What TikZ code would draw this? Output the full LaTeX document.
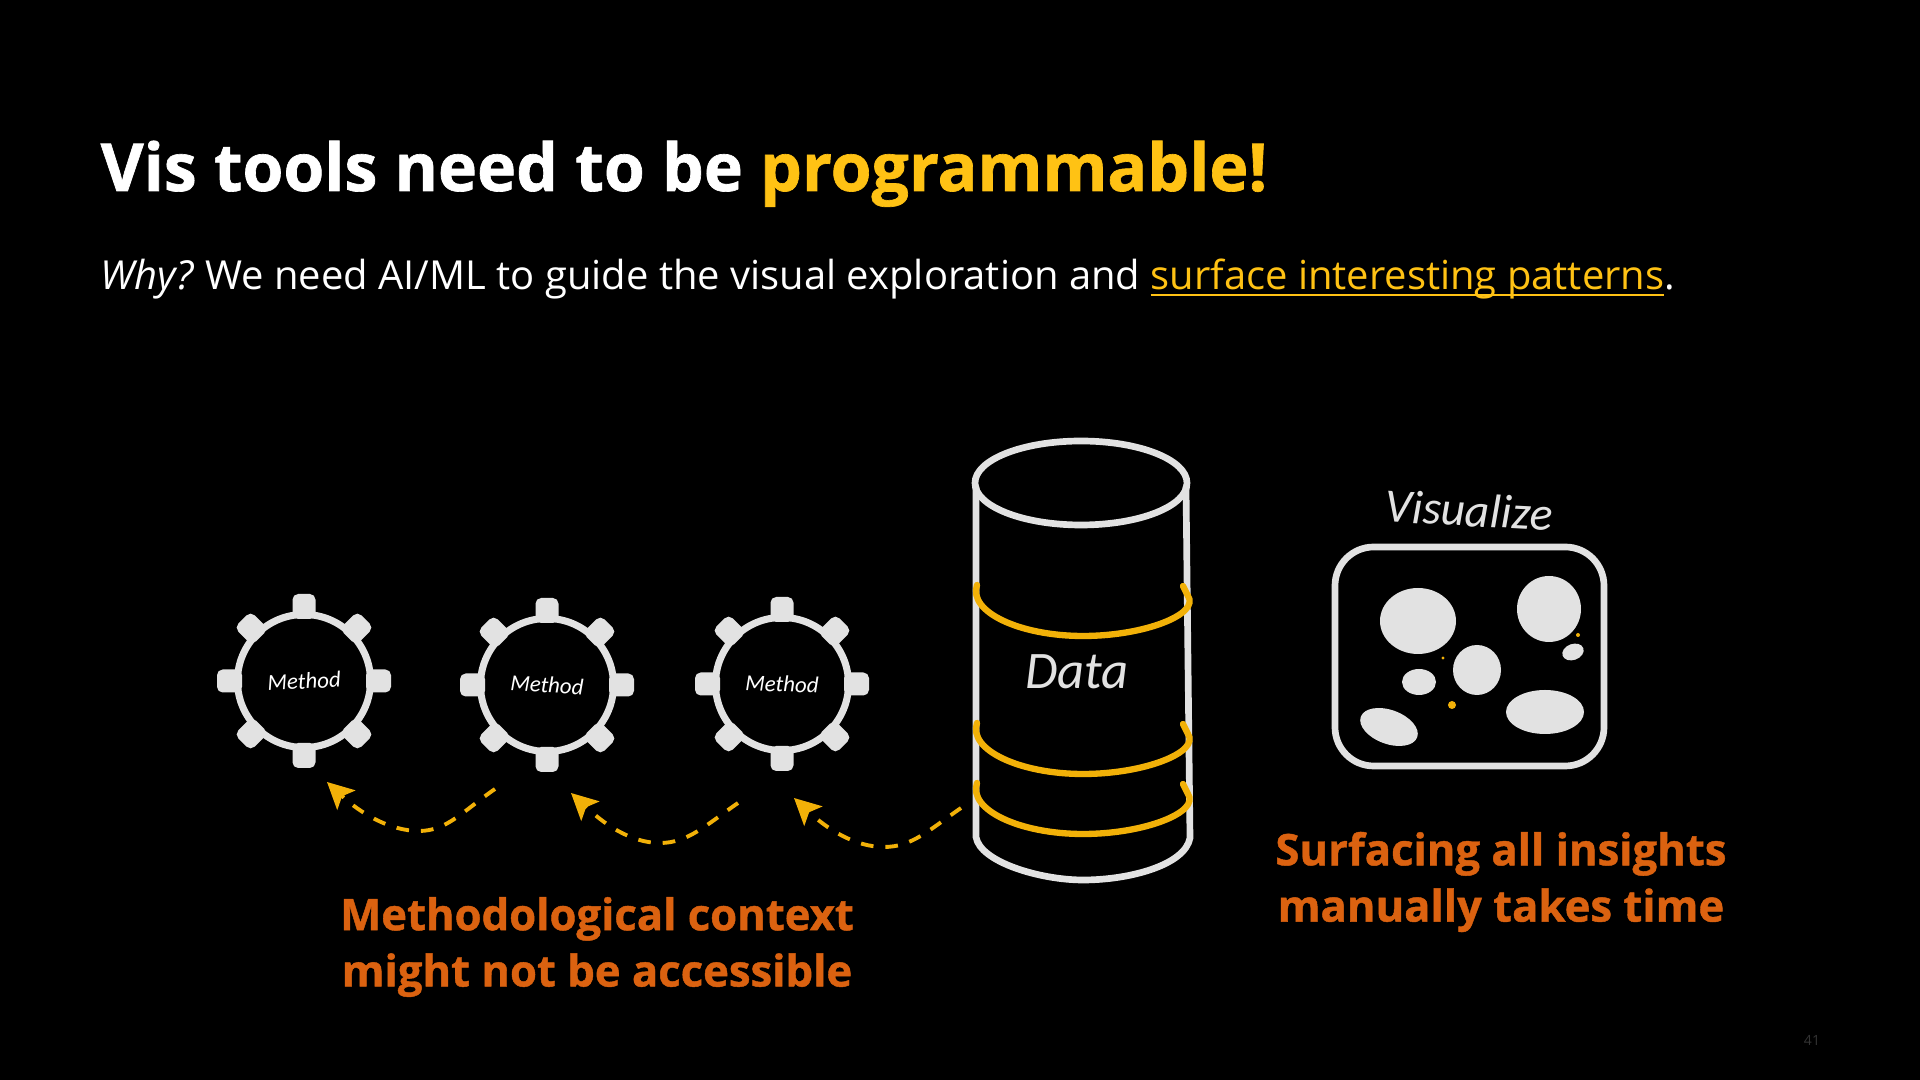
\documentclass[tikz,border=0pt]{standalone}
\usepackage{fontspec}
\setmainfont{Open Sans}
\newfontfamily\handfont{Carlito}
\newfontfamily\heavyfont[BoldFeatures={FakeBold=1}]{Open Sans}
\newsavebox{\linkbox}
\newcommand{\linktext}[1]{\sbox{\linkbox}{#1}\rlap{\rule[-1.6pt]{\wd\linkbox}{0.45pt}}\usebox{\linkbox}}
\usetikzlibrary{arrows.meta,calc}
\definecolor{vgold}{HTML}{FFC214}
\definecolor{vamber}{HTML}{F2B108}
\definecolor{vrust}{HTML}{DB6210}
\definecolor{vsketch}{HTML}{E2E2E2}
\definecolor{vpage}{HTML}{333333}
\tikzset{
  titletxt/.style={anchor=base west,text=white,inner sep=0pt,font=\heavyfont\bfseries\fontsize{18.8}{24}\selectfont},
  subtxt/.style={anchor=base west,text=white,inner sep=0pt,font=\fontsize{11.36}{14}\selectfont},
  notetxt/.style={align=center,text=vrust,inner sep=0pt,font=\heavyfont\bfseries\fontsize{12.4}{16}\selectfont},
  ring/.style={circle,draw=vsketch,line width=2pt,minimum size=1.33cm,inner sep=0pt,text=white,font=\handfont\itshape\fontsize{6.5}{8}\selectfont},
  tooth/.style={fill=vsketch,rounded corners=1.6pt},
  sketch/.style={draw=vsketch,line width=1.9pt,line cap=round},
  band/.style={draw=vamber,line width=1.8pt,line cap=round},
  hand/.style={text=vsketch,inner sep=0pt},
  blob/.style={fill=vsketch},
  dot/.style={fill=vamber},
  arr/.style={-{Stealth[length=7.5pt,width=7.5pt,inset=1.6pt]},draw=vamber,line width=1.1pt,dash pattern=on 3.6pt off 3.4pt},
}
\begin{document}
\begin{tikzpicture}[x=0.01cm,y=-0.01cm]
  \fill[black] (0,0) rectangle (1920,1080);
  \useasboundingbox (0,0) rectangle (1920,1080);
  % titel
  \node[titletxt] (title) at (100,191) {Vis tools need to be \textcolor{vgold}{programmable!}};
  \node[subtxt] (sub) at (100,290) {\textit{Why?}\hspace{-0.8pt} We need AI/ML to guide the visual exploration and \textcolor{vgold}{\linktext{surface interesting patterns}}.};
  % methoden
  \foreach \n/\x/\y/\r in {m1/304/681/3,m2/547/685/-3,m3/782/684/-2} {
    \foreach \a in {0,45,...,315} {
      \fill[tooth,shift={(\x,\y)},rotate=\a] (62,-11.5) rectangle (87,11.5);
    }
    \node[ring] (\n) at (\x,\y) {\rotatebox{\r}{Method}};
  }
  % pijlen
  \coordinate (s1) at (495,789); \coordinate (l1) at (419,831); \coordinate (t1) at ($(m1)+(23,101)$);
  \coordinate (s2) at (738,803); \coordinate (l2) at (660,843); \coordinate (t2) at ($(m2)+(24,108)$);
  \coordinate (s3) at (961,808); \coordinate (l3) at (884,847); \coordinate (t3) at ($(m3)+(12,114)$);
  \foreach \i in {1,2,3} {
    \draw[arr] (s\i) .. controls +(-32,22) and +(28,0) .. (l\i) .. controls +(-30,0) and +(32,30) .. (t\i);
  }
  % cilinder
  \draw[sketch] (1081,483) ellipse [x radius=106,y radius=42];
  \draw[sketch] (976,487) -- (976,837) .. controls (980,862) and (1040,880) .. (1083,880) .. controls (1130,880) and (1185,865) .. (1190,838) -- (1186,487);
  \foreach \u in {0,138,198} {
    \draw[band] (977,{585+\u}) .. controls (968,{612+\u}) and (1020,{636+\u}) .. (1083,{636+\u}) .. controls (1145,{636+\u}) and (1200,{614+\u}) .. (1188,{596+\u}) -- (1183,{586+\u});
  }
  \node[hand,font=\handfont\itshape\fontsize{15}{18}\selectfont] (data) at (1077,672) {Data};
  % visualisatie
  \node[hand,rotate=-3,font=\handfont\itshape\fontsize{13.5}{16}\selectfont] (vis) at (1469,510) {Visualize};
  \draw[sketch,rounded corners=11pt] (1335,547) rectangle (1604,766);
  \foreach \x/\y/\a/\b/\r in {1418/621/38/33/0,1549/609/32/33/0,1477/670/24/25/0,1419/682/17/13/0,1545/712/39/22/0,1389/727/30/17/-20,1573/652/11/8/20} {
    \fill[blob] (\x,\y) ellipse [x radius=\a,y radius=\b,rotate=\r];
  }
  \foreach \x/\y/\r in {1443/658/1.7,1452/705/4,1578/635/2} {
    \fill[dot] (\x,\y) circle [radius=\r];
  }
  % teksten
  \node[notetxt] (note1) at (597,947) {Methodological context\\might not be accessible};
  \node[notetxt] (note2) at (1501,882) {Surfacing all insights\\manually takes time};
  \node[text=vpage,inner sep=0pt,font=\fontsize{4}{5}\selectfont] (page) at (1812,1040) {41};
\end{tikzpicture}
\end{document}
